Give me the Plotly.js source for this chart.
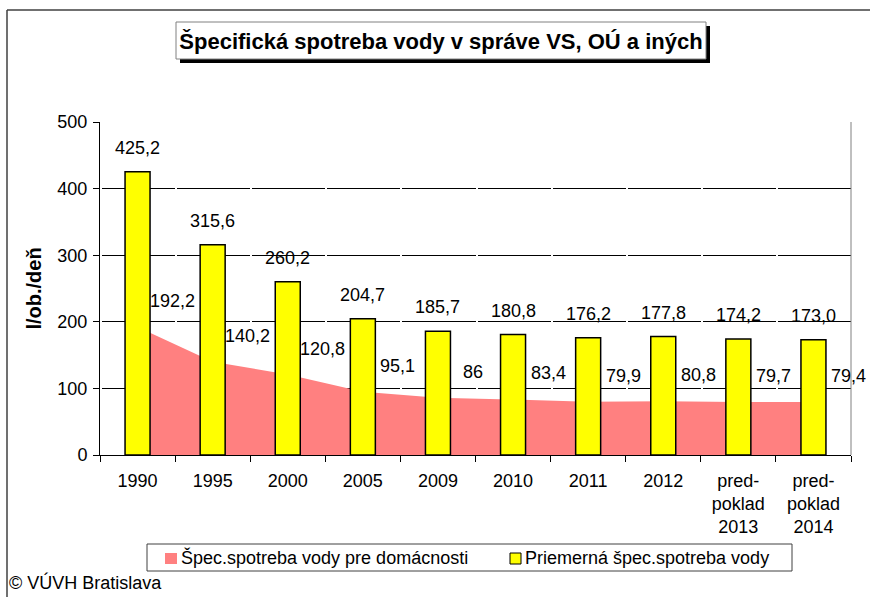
<!DOCTYPE html>
<html>
<head>
<meta charset="utf-8">
<script src="https://cdn.plot.ly/plotly-3.0.1.min.js"></script>
<style>
html,body{margin:0;padding:0;background:#fff;}
#chart{width:870px;height:597px;}
</style>
</head>
<body>
<div id="chart"></div>
<script>
// ---- data ----
var categories = ["1990","1995","2000","2005","2009","2010","2011","2012","pred-<br>poklad<br>2013","pred-<br>poklad<br>2014"];
var averageUse = [425.2,315.6,260.2,204.7,185.7,180.8,176.2,177.8,174.2,173.0];
var householdUse = [192.2,140.2,120.8,95.1,86,83.4,79.9,80.8,79.7,79.4];
var seriesNames = ["Špec.spotreba vody pre domácnosti","Priemerná špec.spotreba vody"];
var titleText = "Špecifická spotreba vody v správe VS, OÚ a iných";
var yTitle = "l/ob./deň";
var sourceText = "© VÚVH Bratislava";

var FONT = "Liberation Sans, Arial, sans-serif";
var W = 870, H = 597;
var L = 100, R = 19, T = 122, B = 142;
var PW = W - L - R, PH = H - T - B;
function px(x){ return (x - L) / PW; }
function py(y){ return (H - B - y) / PH; }
function fmt1(v){ return v.toFixed(1).replace('.', ','); }
function fmtG(v){ return String(v).replace('.', ','); }
var catRange = [-0.5, categories.length - 0.5];

var traces = [
  {
    type: 'scatter', x: categories, y: householdUse, name: seriesNames[0],
    xaxis: 'x', yaxis: 'y',
    mode: 'none', fill: 'tozeroy', fillcolor: '#FF8080',
    hoverinfo: 'skip', showlegend: false
  },
  {
    type: 'bar', x: categories, y: averageUse, name: seriesNames[1],
    xaxis: 'x2', yaxis: 'y2',
    marker: {color: '#FFFF00', line: {color: '#000000', width: 1.5}},
    hoverinfo: 'skip', showlegend: false
  }
];

var annotations = [];
averageUse.forEach(function(v,i){
  annotations.push({x: i, y: v, xref: 'x', yref: 'y', text: fmt1(v), showarrow: false,
    yanchor: 'middle', yshift: 24, font: {family: FONT, size: 18, color: '#000'}});
});
householdUse.forEach(function(v,i){
  annotations.push({x: i, y: v, xref: 'x', yref: 'y', text: fmtG(v), showarrow: false,
    xanchor: 'center', yanchor: 'middle', xshift: 35, yshift: 26, font: {family: FONT, size: 18, color: '#000'}});
});
// legend texts (manual legend)
annotations.push({xref: 'paper', yref: 'paper', x: px(179), y: py(557.5), xanchor: 'left', yanchor: 'middle',
  text: seriesNames[0], showarrow: false, font: {family: FONT, size: 18, color: '#000'}});
annotations.push({xref: 'paper', yref: 'paper', x: px(523), y: py(557.5), xanchor: 'left', yanchor: 'middle',
  text: seriesNames[1], showarrow: false, font: {family: FONT, size: 18, color: '#000'}});
// source
annotations.push({xref: 'paper', yref: 'paper', x: px(7), y: py(582), xanchor: 'left', yanchor: 'middle',
  text: sourceText, showarrow: false, font: {family: FONT, size: 18, color: '#000'}});

function rect(x0,y0,x1,y1,fill,lineColor,lw){
  return {type: 'rect', xref: 'paper', yref: 'paper', x0: px(x0), x1: px(x1), y0: py(y0), y1: py(y1),
    fillcolor: fill, line: {color: lineColor || 'rgba(0,0,0,0)', width: lw || 0}, layer: 'above'};
}
function line(x0,y0,x1,y1,color,lw){
  return {type: 'line', xref: 'paper', yref: 'paper', x0: px(x0), x1: px(x1), y0: py(y0), y1: py(y1),
    line: {color: color, width: lw}, layer: 'above'};
}

var shapes = [
  // outer frame
  line(7, 10, 870, 10, '#404040', 1.5),
  line(7, 10, 7, 597, '#404040', 1.5),
  // right border of plot area
  line(851, 122, 851, 455, '#808080', 1),
  // title box + shadow
  rect(180, 26, 710, 63, '#000000'),
  rect(176, 22, 706, 59, '#FFFFFF', '#808080', 1),
  // legend box
  rect(147, 544, 792, 571, '#FFFFFF', '#404040', 1),
  rect(165, 553, 177, 564, '#FF8080'),
  rect(510, 553, 521, 564, '#FFFF00', '#000000', 1)
];

var layout = {
  width: W, height: H,
  margin: {l: L, r: R, t: T, b: B, pad: 0},
  paper_bgcolor: '#FFFFFF', plot_bgcolor: '#FFFFFF',
  font: {family: FONT, size: 18, color: '#000'},
  title: {text: titleText, x: 441/W, xref: 'container', xanchor: 'center',
    y: 1 - 41/H, yref: 'container', yanchor: 'middle',
    font: {family: FONT, size: 22, color: '#000', weight: 'bold'}},
  showlegend: false,
  bargap: 0.667,
  xaxis: {type: 'category', range: catRange, tickson: 'boundaries', ticks: 'outside', ticklen: 6, tickcolor: '#000',
    showline: true, linecolor: '#000', linewidth: 1, showgrid: false, zeroline: false,
    ticklabelstandoff: 9,
    tickfont: {family: FONT, size: 18, color: '#000'}, fixedrange: true},
  xaxis2: {type: 'category', overlaying: 'x', visible: false, range: catRange, fixedrange: true},
  yaxis: {range: [0, 500], dtick: 100, tick0: 0, ticks: 'outside', ticklen: 6, tickcolor: '#000',
    showline: true, linecolor: '#000', linewidth: 1,
    showgrid: true, gridcolor: '#000', gridwidth: 1, griddash: '0px,2px,73.1px,0px', zeroline: false,
    ticklabelstandoff: 2,
    tickfont: {family: FONT, size: 18, color: '#000'},
    title: {text: yTitle, standoff: 10, font: {family: FONT, size: 20, color: '#000', weight: 'bold'}},
    fixedrange: true},
  yaxis2: {overlaying: 'y', visible: false, range: [0, 500], fixedrange: true},
  shapes: shapes,
  annotations: annotations
};

Plotly.newPlot('chart', traces, layout, {displayModeBar: false, staticPlot: true});
</script>
</body>
</html>
